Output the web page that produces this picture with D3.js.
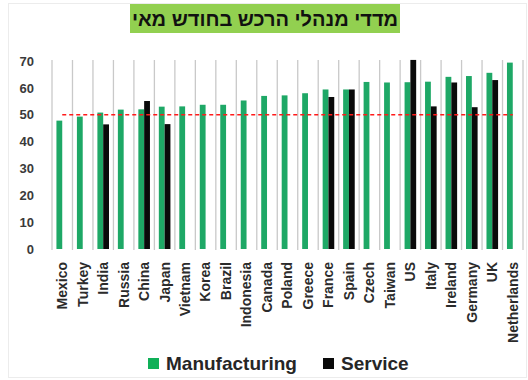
<!DOCTYPE html>
<html>
<head>
<meta charset="utf-8">
<script src="https://cdn.jsdelivr.net/npm/d3@7"></script>
<style>
  html, body { margin: 0; padding: 0; background: #ffffff; }
  svg { display: block; }
</style>
</head>
<body>
<svg id="chart" width="528" height="380"></svg>
<script>
// PMI readings for May, by country
const countries = ["Mexico","Turkey","India","Russia","China","Japan","Vietnam","Korea","Brazil",
  "Indonesia","Canada","Poland","Greece","France","Spain","Czech","Taiwan","US","Italy",
  "Ireland","Germany","UK","Netherlands"];
const manufacturing = [47.8,49.3,50.8,51.9,52.0,53.0,53.1,53.7,53.7,55.3,57.0,57.2,58.0,
  59.4,59.4,62.2,62.0,62.1,62.3,64.1,64.4,65.6,69.4];
const service = [null,null,46.4,null,55.1,46.5,null,null,null,null,null,null,null,
  56.6,59.4,null,null,70.4,53.1,62.0,52.8,62.9,null];
const yTicks = [0,10,20,30,40,50,60,70];
const threshold = 50;
const seriesNames = ["Manufacturing","Service"];
const seriesColors = ["#1ea866","#0a0a0a"];
const titleText = "מדדי מנהלי הרכש בחודש מאי";

const svg = d3.select("#chart");
const font = "'Liberation Sans', Arial, sans-serif";

// chart frame
svg.append("rect").attr("x", 8.5).attr("y", 3.5).attr("width", 518).attr("height", 374)
  .attr("fill", "#fff").attr("stroke", "#ececec").attr("stroke-width", 1);

const x = d3.scaleBand().domain(countries).range([52, 523]).padding(0);
const y = d3.scaleLinear().domain([0, 70]).range([249, 61]);
const barW = 5.8;

// vertical category gridlines
const bounds = countries.map(c => x(c)).concat([x.range()[1]]);
svg.append("g").selectAll("line").data(bounds).join("line")
  .attr("x1", d => d).attr("x2", d => d)
  .attr("y1", y(70) - 1).attr("y2", y(0) + 1)
  .attr("stroke", "#c9c9c9").attr("stroke-width", 1.3);

// y axis labels
const yAxis = svg.append("g").attr("transform", "translate(34,0)")
  .call(d3.axisLeft(y).tickValues(yTicks).tickSize(0).tickPadding(0));
yAxis.select(".domain").remove();
yAxis.selectAll("text").attr("font-family", font).attr("font-weight", "bold")
  .attr("font-size", 13).attr("fill", "#3a3a3a");

// manufacturing bars
svg.append("g").selectAll("rect").data(countries).join("rect")
  .attr("x", (c) => x(c) + x.bandwidth() / 2 - barW)
  .attr("width", barW)
  .attr("y", (c, i) => y(manufacturing[i]))
  .attr("height", (c, i) => y(0) - y(manufacturing[i]))
  .attr("fill", seriesColors[0]);

// service bars
const svcData = countries.map((c, i) => ({c, v: service[i]})).filter(d => d.v != null);
svg.append("g").selectAll("rect").data(svcData).join("rect")
  .attr("x", d => x(d.c) + x.bandwidth() / 2)
  .attr("width", barW)
  .attr("y", d => y(d.v))
  .attr("height", d => y(0) - y(d.v))
  .attr("fill", seriesColors[1]);

// expansion threshold line
svg.append("line")
  .attr("x1", x(countries[0]) + x.bandwidth() / 2)
  .attr("x2", x(countries[countries.length - 1]) + x.bandwidth() / 2)
  .attr("y1", y(threshold)).attr("y2", y(threshold))
  .attr("stroke", "#ff1a1a").attr("stroke-width", 1.5).attr("stroke-dasharray", "4,3");

// category labels, rotated
const xAxis = svg.append("g").attr("transform", "translate(0,262)")
  .call(d3.axisBottom(x).tickSize(0).tickPadding(0));
xAxis.select(".domain").remove();
xAxis.selectAll("text")
  .attr("transform", "rotate(-90)")
  .attr("x", 0).attr("y", 0).attr("dy", "0.35em")
  .attr("text-anchor", "end")
  .attr("font-family", font).attr("font-weight", "bold")
  .attr("font-size", 14).attr("fill", "#2b2b2b");

// title banner
svg.append("rect").attr("x", 130).attr("y", 4).attr("width", 270).attr("height", 29)
  .attr("fill", "#92d050");
svg.append("text").attr("x", 265).attr("y", 26)
  .attr("text-anchor", "middle").attr("direction", "rtl")
  .attr("font-family", font).attr("font-weight", "bold").attr("font-size", 20)
  .attr("fill", "#111").text(titleText);

// legend
const legendPos = [148, 323];
const legend = svg.append("g").selectAll("g").data(seriesNames).join("g")
  .attr("transform", (d, i) => `translate(${legendPos[i]},358)`);
legend.append("rect").attr("width", 11).attr("height", 11)
  .attr("fill", (d, i) => i === 0 ? "#10b058" : seriesColors[1]);
legend.append("text").attr("x", 18).attr("y", 12)
  .attr("font-family", font).attr("font-weight", "bold").attr("font-size", 19)
  .attr("fill", "#262626").text(d => d);
</script>
</body>
</html>
